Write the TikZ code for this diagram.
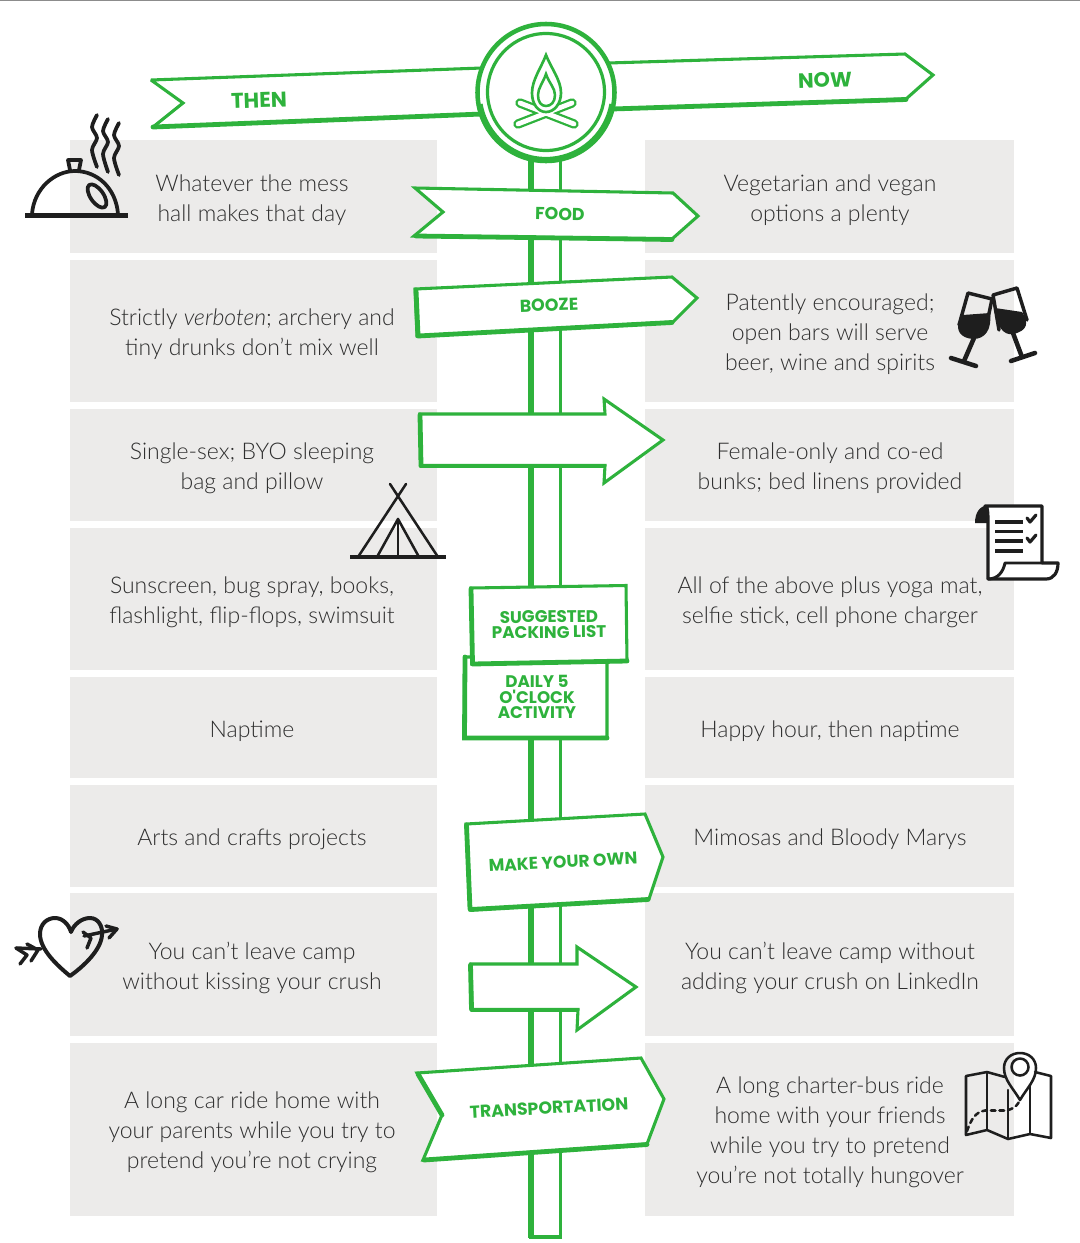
\documentclass[tikz,border=0pt]{standalone}
\usepackage{fontspec}
\setmainfont{Lato Light}[BoldFont=Poppins Bold,ItalicFont=Lato Light Italic]
\newfontfamily\signfont{Poppins}[UprightFont=* Bold]
\definecolor{signgreen}{HTML}{2EB23C}
\definecolor{panelgray}{HTML}{ECEBEA}
\definecolor{inkdark}{HTML}{1E1E1E}
\definecolor{txtdark}{HTML}{2E2E2E}
\tikzset{
 panel/.style={fill=panelgray,draw=none},
 sign/.style={draw=signgreen,fill=white,line width=2.3pt,line join=miter,miter limit=3},
 signedge/.style={draw=signgreen,line width=3.6pt,line cap=round},
 body/.style={font=\fontsize{17.25}{22.5}\selectfont,text=txtdark,align=center,inner sep=0pt},
 signlab/.style={font=\signfont\fontsize{#1}{11.6}\selectfont,text=signgreen,align=center,inner sep=0pt},
 ink/.style={draw=inkdark,line width=2.6pt,line cap=round,line join=round},
 inkthin/.style={draw=inkdark,line width=1.9pt,line cap=round,line join=round},
}
\begin{document}
\begin{tikzpicture}[x=0.75pt,y=-0.75pt]
\useasboundingbox (0,0) rectangle (1080,1243);
\fill[white] (0,0) rectangle (1080,1243);
\fill[gray!90] (0,0) rectangle (1080,1.3);
% panels
\foreach \a/\b in {140/253,260/402,409/521,528/670,677/778,785/887,893/1036,1043/1216}{
 \fill[panel] (70,\a) rectangle (437,\b);
 \fill[panel] (645,\a) rectangle (1014,\b);
}
% post
\draw[draw=signgreen,fill=white,line width=2.8pt] (560.5,150) -- (560.5,1237) -- (531,1237) -- (531,150);
\draw[signgreen,line width=4.2pt] (530.7,150) -- (530.7,1238);
% THEN / NOW
\draw[sign] (151,80) -- (482,68) -- (482,114) -- (153,127) -- (183,103) -- cycle;
\draw[signedge] (153,127) -- (482,114);
\draw[sign] (608,63) -- (905,54) -- (933,75) -- (906,99) -- (610,109) -- cycle;
\draw[signedge] (906,99.5) -- (612,109);
% Medallion
\draw[draw=signgreen,fill=white,line width=3.4pt] (546,92.5) circle (68.5);
\draw[signgreen,line width=4.4pt] (479.7,104.2) arc[start angle=170,end angle=10,radius=67.3];
\draw[draw=signgreen,line width=2.4pt] (546,92) circle (58.5);
% campfire
\begin{scope}[line cap=round]
\draw[signgreen,line width=7pt] (520,103) -- (574,124) (518,124) -- (572,103);
\draw[white,line width=3.6pt] (520,103) -- (574,124) (518,124) -- (572,103);
\end{scope}
\draw[draw=signgreen,fill=white,line width=2pt,line join=miter] (546,55) .. controls (541,68) and (532,80) .. (532,93) .. controls (532,104) and (538,112) .. (546,112) .. controls (554,112) and (561,104) .. (561,93) .. controls (561,80) and (551,68) .. (546,55) -- cycle;
\draw[draw=signgreen,fill=white,line width=1.9pt,line join=miter] (546,74) .. controls (543,83) and (538,88) .. (538,95) .. controls (538,102) and (541,106) .. (546,106) .. controls (551,106) and (555,102) .. (555,95) .. controls (555,88) and (549,83) .. (546,74) -- cycle;
\node[signlab=16,rotate=2] (then) at (259,100) {THEN};
\node[signlab=15.6,rotate=2] (now) at (825,80) {NOW};
% FOOD
\draw[sign] (415,188) -- (673,193) -- (698,216) -- (672,239) -- (414,236) -- (443,212) -- cycle;
\draw[signedge] (416,236) -- (672,239.5);
\node[signlab=13,rotate=-1] (food) at (560,214) {FOOD};
% BOOZE
\draw[sign] (415,289) -- (672,277) -- (697,298) -- (673,322) -- (417,336) -- cycle;
\draw[signedge] (418,336) -- (672,322.5);
\draw[signedge] (416,290) -- (418,335);
\node[signlab=13,rotate=2] (booze) at (549,305) {BOOZE};
% Arrow 1
\draw[sign] (420,414) -- (605,414) -- (604,399) -- (663,440) -- (604,483) -- (605,465.5) -- (421,465.5) -- cycle;
\draw[signedge] (421,466) -- (604,466);
\draw[signedge] (420,415) -- (421,465);
% Daily
\draw[sign] (465,657) -- (607,657) -- (607,737.5) -- (464,738) -- cycle;
\draw[signedge] (465,657) -- (464.5,738) -- (607,738);
\node[signlab=12.6] (daily) at (537,697) {DAILY 5\\O'CLOCK\\ACTIVITY};
% Suggested
\draw[sign] (471,588) -- (626,585.5) -- (627,660.5) -- (472,664) -- cycle;
\draw[signedge] (472.5,664) -- (627,661);
\draw[signedge] (471,589) -- (472.5,663);
\node[signlab=12.6,rotate=0.5] (packing) at (549,624.5) {SUGGESTED\\PACKING LIST};
% Make your own
\draw[sign] (466,824) -- (645,814) -- (663,857) -- (649,899) -- (470,910) -- cycle;
\draw[signedge] (471,909.5) -- (648,899.5);
\draw[signedge] (466.5,825) -- (470,909);
\node[signlab=12.8,rotate=3] (diy) at (563,862) {MAKE YOUR OWN};
% Arrow 2
\draw[sign] (471,964) -- (577,964) -- (577,947) -- (636,987) -- (577,1030) -- (578,1009.5) -- (472,1009.5) -- cycle;
\draw[signedge] (472,1010) -- (577,1010);
\draw[signedge] (470.5,965) -- (471.5,1009);
% Transportation
\draw[sign] (417,1073) -- (641,1058) -- (664,1099) -- (647,1144) -- (423,1160) -- (442,1115) -- cycle;
\draw[signedge] (424,1160) -- (647,1144.5);
\draw[signedge] (418,1074) -- (442,1115);
\node[signlab=13,rotate=3.2] (transport) at (549,1108) {TRANSPORTATION};
% body text
\node[body] (l1) at (252,200) {Whatever the mess\\hall makes that day};
\node[body] (r1) at (830,200) {Vegetarian and vegan\\options a plenty};
\node[body] (l2) at (252,334) {Strictly \textit{verboten}; archery and\\tiny drunks don’t mix well};
\node[body] (r2) at (830,334) {Patently encouraged;\\open bars will serve\\beer, wine and spirits};
\node[body] (l3) at (252,468) {Single-sex; BYO sleeping\\bag and pillow};
\node[body] (r3) at (830,468) {Female-only and co-ed\\bunks; bed linens provided};
\node[body] (l4) at (252,602) {Sunscreen, bug spray, books,\\flashlight, flip-flops, swimsuit};
\node[body] (r4) at (830,602) {All of the above plus yoga mat,\\selfie stick, cell phone charger};
\node[body] (l5) at (252,731) {Naptime};
\node[body] (r5) at (830,731) {Happy hour, then naptime};
\node[body] (l6) at (252,839) {Arts and crafts projects};
\node[body] (r6) at (830,839) {Mimosas and Bloody Marys};
\node[body] (l7) at (252,968) {You can’t leave camp\\without kissing your crush};
\node[body] (r7) at (830,968) {You can’t leave camp without\\adding your crush on LinkedIn};
\node[body] (l8) at (252,1132) {A long car ride home with\\your parents while you try to\\pretend you’re not crying};
\node[body] (r8) at (830,1132) {A long charter-bus ride\\home with your friends\\while you try to pretend\\you’re not totally hungover};
% Cloche
\draw[ink,line cap=butt,line width=3.4pt] (25,215.5) -- (128,215.5);
\draw[ink,line width=2.8pt] (32,214) .. controls (34,188) and (55,171) .. (75,171) .. controls (97,171) and (116,188) .. (118,214);
\draw[ink,line width=2.8pt] (70,170) -- (68,160) -- (81,160) -- (79,170);
\draw[ink,line width=2.8pt,rotate around={35:(97,196)}] (97,196) ellipse (6.5 and 13.5);
\draw[ink,line width=2.8pt] plot[smooth] coordinates {(97,115) (92,127) (97,138) (92,150) (97,167)};
\draw[ink,line width=2.8pt] plot[smooth] coordinates {(108,119) (103,131) (108,142) (103,154) (108,172)};
\draw[ink,line width=2.8pt] plot[smooth] coordinates {(119,123) (114,135) (119,146) (114,158) (119,175)};
% Glasses
\draw[ink] (959,325) -- (968,293) -- (992,299) -- (986,328);
\fill[inkdark] (963,315) -- (990,313) .. controls (992,330) and (985,339) .. (973,339) .. controls (960,338) and (956,330) .. (959,322) -- cycle;
\draw[ink,line width=3.4pt] (974,338) -- (964,361);
\draw[ink,line width=3.4pt] (951,358) -- (976,366);
\draw[ink] (999,330) -- (993,295) -- (1017,288) -- (1027,320);
\fill[inkdark] (995,308) -- (1022,312) .. controls (1029,322) and (1028,331) .. (1013,334) .. controls (1003,336) and (996,325) .. (995,308) -- cycle;
\draw[ink,line width=3.4pt] (1013,333) -- (1022,357);
\draw[ink,line width=3.4pt] (1011,361) -- (1035,353);
% Tent
\draw[inkthin,line cap=butt,line width=2.3pt] (350,557) -- (446,557);
\draw[inkthin] (390,484) -- (438,557);
\draw[inkthin] (406,484) -- (358,557);
\draw[inkthin] (377,557) -- (398,519) -- (419,557);
\draw[inkthin] (398,519) -- (398,557);
% Checklist
\draw[ink,fill=white,line width=2.4pt] (985,506) -- (1042,506) -- (1042,563) -- (1058,563) .. controls (1058,572) and (1054,579) .. (1046,579) -- (988,579) -- (988,523) .. controls (988,515) and (988,506) .. (985,506) -- cycle;
\fill[inkdark] (975,523) .. controls (975,512) and (980,506) .. (988,505) -- (988,523) -- cycle;
\draw[ink,line width=2.2pt] (1042,563) -- (1005,563) .. controls (1003,572) and (998,579) .. (988,579);
\draw[ink,line width=2.4pt,line cap=butt] (995,522) -- (1023,522) (995,531.5) -- (1023,531.5) (995,541) -- (1023,541) (995,551) -- (1023,551);
\draw[ink,line width=2.4pt] (1027,518) -- (1030,522) -- (1036,515) (1027,538) -- (1030,542) -- (1036,535);
% Heart
\draw[ink,line width=3pt] (70,976) .. controls (58,966) and (40,950) .. (40,934) .. controls (40,924) and (47,918) .. (55,918) .. controls (63,918) and (69,925) .. (71,932) .. controls (74,924) and (82,918) .. (90,918) .. controls (98,918) and (103,926) .. (102,935) .. controls (101,950) and (84,966) .. (70,976) -- cycle;
\draw[ink] (16,948) -- (41,949);
\draw[ink] (84,936) -- (117,929);
\draw[ink] (106,926) -- (117,929) -- (109,938);
\draw[ink] (27,944) -- (38,950) -- (31,961);
\draw[ink] (16,948) -- (27,955) -- (20,964);
\draw[ink] (83,932) -- (91,938) -- (87,948);
% Map
\draw[inkthin] (1005,1077) -- (987,1072) -- (966,1076) -- (966,1135) -- (987,1130) -- (1008,1139) -- (1030,1134) -- (1051,1138) -- (1051,1076) -- (1035,1072);
\draw[inkthin] (987,1072) -- (987,1130);
\draw[inkthin] (1008,1090) -- (1008,1139);
\draw[inkthin] (1030,1086) -- (1030,1134);
\draw[inkthin] (1020,1100) .. controls (1013,1088) and (1004,1080) .. (1004,1068) .. controls (1004,1059) and (1011,1053) .. (1020,1053) .. controls (1029,1053) and (1036,1059) .. (1036,1068) .. controls (1036,1080) and (1027,1088) .. (1020,1100) -- cycle;
\draw[inkthin] (1020,1067) circle (8.5);
\draw[inkthin,dash pattern=on 3.5pt off 3pt] (967,1131) .. controls (971,1120) and (975,1112) .. (985,1110.5) -- (1004,1110.5) .. controls (1012,1110) and (1016,1107) .. (1019,1102);
\end{tikzpicture}
\end{document}
